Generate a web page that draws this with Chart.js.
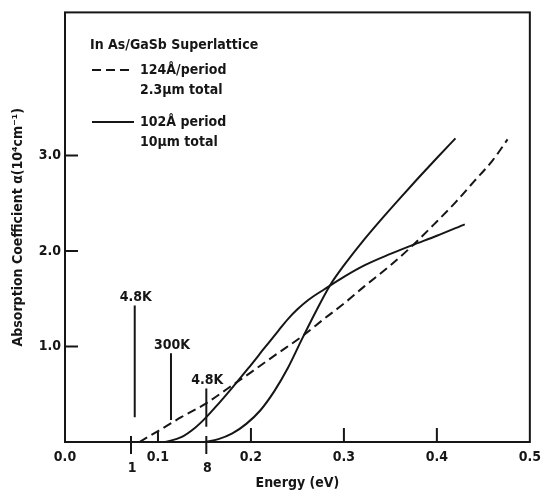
<!doctype html>
<html>
<head>
<meta charset="utf-8">
<title>InAs/GaSb superlattice absorption</title>
<script src="https://cdn.jsdelivr.net/npm/chart.js@4"></script>
<style>
  html, body { margin: 0; padding: 0; background: #fff; }
</style>
</head>
<body>
<canvas id="c" width="548" height="494"></canvas>
<script>
const energy124 = [0.080, 0.101, 0.125, 0.151, 0.175, 0.200, 0.229, 0.254, 0.280, 0.300, 0.322, 0.350, 0.373, 0.400, 0.420, 0.440, 0.460, 0.476];
const alpha124  = [0.00, 0.12, 0.26, 0.40, 0.56, 0.73, 0.93, 1.10, 1.30, 1.45, 1.63, 1.85, 2.05, 2.31, 2.51, 2.73, 2.95, 3.17];

const energyA = [0.108, 0.125, 0.140, 0.151, 0.165, 0.180, 0.197, 0.215, 0.229, 0.240, 0.250, 0.262, 0.279, 0.300, 0.322, 0.350, 0.373, 0.400, 0.430];
const alphaA  = [0.00, 0.05, 0.15, 0.25, 0.40, 0.57, 0.77, 0.99, 1.16, 1.29, 1.39, 1.49, 1.60, 1.73, 1.85, 1.97, 2.06, 2.16, 2.28];

const energyB = [0.150, 0.165, 0.180, 0.195, 0.210, 0.225, 0.240, 0.255, 0.270, 0.285, 0.300, 0.320, 0.340, 0.360, 0.380, 0.400, 0.420];
const alphaB  = [0.00, 0.03, 0.09, 0.19, 0.33, 0.53, 0.78, 1.08, 1.37, 1.64, 1.85, 2.10, 2.33, 2.55, 2.765, 2.975, 3.18];

// вертикальные метки (ширина щели)
const markerX     = [0.075, 0.114, 0.152];
const markerLow   = [0.26, 0.23, 0.16];
const markerHigh  = [1.43, 0.93, 0.56];
const markerNames = ['4.8K', '300K', '4.8K'];

const xTicks = [0, 0.1, 0.2, 0.3, 0.4, 0.5];
const yTicks = [1, 2, 3];
const extraTicks = [0.071, 0.152];
const extraTickNames = ['1', '8'];

const legendTitle = 'In As/GaSb Superlattice';
const legendLines = [['124Å/period', '2.3μm total'], ['102Å period', '10μm total']];

const FONT = "'DejaVu Sans Condensed', 'Liberation Sans', Arial, sans-serif";
const FSIZE = 14;
const INK = '#161616';

function pts(xs, ys) { return xs.map((x, i) => ({ x, y: ys[i] })); }

const curve = (data, dash) => ({
  data, borderColor: INK, borderWidth: 2, borderDash: dash || [],
  pointRadius: 0, showLine: true, fill: false, cubicInterpolationMode: 'monotone',
});

const markerSets = markerX.map((x, i) => ({
  data: [{ x, y: markerLow[i] }, { x, y: markerHigh[i] }],
  borderColor: INK, borderWidth: 2, pointRadius: 0, showLine: true,
}));

// рамка, внутренние засечки, подписи меток и легенда
const decor = {
  id: 'decor',
  afterDraw(chart) {
    const { ctx, chartArea: a, scales: { x, y } } = chart;
    ctx.save();
    ctx.strokeStyle = INK;
    ctx.fillStyle = INK;
    ctx.lineWidth = 2;
    ctx.strokeRect(a.left, a.top, a.right - a.left, a.bottom - a.top);

    ctx.beginPath();
    yTicks.forEach(v => { const py = y.getPixelForValue(v); ctx.moveTo(a.left, py); ctx.lineTo(a.left + 13, py); });
    xTicks.slice(1, -1).forEach((v, i) => {
      const px = x.getPixelForValue(v);
      ctx.moveTo(px, a.bottom); ctx.lineTo(px, a.bottom - (i === 0 ? 10 : 14));
    });
    extraTicks.forEach(v => { const px = x.getPixelForValue(v); ctx.moveTo(px, a.bottom - 6); ctx.lineTo(px, a.bottom + 12); });
    ctx.stroke();

    ctx.font = 'bold ' + FSIZE + 'px ' + FONT;
    ctx.textAlign = 'center';
    ctx.textBaseline = 'middle';
    extraTicks.forEach((v, i) => ctx.fillText(extraTickNames[i], x.getPixelForValue(v) + 1, a.bottom + 26));
    markerX.forEach((v, i) => ctx.fillText(markerNames[i], x.getPixelForValue(v) + 1, y.getPixelForValue(markerHigh[i]) - 8));

    ctx.textAlign = 'left';
    ctx.fillText(legendTitle, 90, 45);
    const rows = [70, 122];
    rows.forEach((ry, i) => {
      ctx.beginPath();
      ctx.setLineDash(i === 0 ? [9, 5] : []);
      ctx.moveTo(92, ry); ctx.lineTo(134, ry);
      ctx.stroke();
      ctx.setLineDash([]);
      ctx.fillText(legendLines[i][0], 140, ry);
      ctx.fillText(legendLines[i][1], 140, ry + 20);
    });
    ctx.restore();
  }
};

const tickFont = { family: FONT, size: FSIZE, weight: 'bold' };

new Chart(document.getElementById('c'), {
  type: 'scatter',
  data: {
    datasets: [
      curve(pts(energy124, alpha124), [9, 5]),
      curve(pts(energyA, alphaA)),
      curve(pts(energyB, alphaB)),
      ...markerSets,
    ]
  },
  options: {
    responsive: false,
    animation: false,
    devicePixelRatio: 1,
    layout: { padding: { left: 0, right: 13, top: 10, bottom: 0 } },
    plugins: { legend: { display: false }, tooltip: { enabled: false } },
    scales: {
      x: {
        type: 'linear', min: 0, max: 0.5,
        afterBuildTicks: s => { s.ticks = xTicks.map(value => ({ value })); },
        afterFit: s => { s.height = 52; },
        grid: { drawOnChartArea: false, drawTicks: false },
        border: { display: false },
        ticks: { padding: 7, color: INK, font: tickFont, callback: v => v.toFixed(1) },
        title: { display: true, text: 'Energy (eV)', color: INK, padding: { top: 0, bottom: 2 }, font: tickFont },
      },
      y: {
        type: 'linear', min: 0, max: 4.5,
        afterBuildTicks: s => { s.ticks = yTicks.map(value => ({ value })); },
        afterFit: s => { s.width = 65; },
        grid: { drawOnChartArea: false, drawTicks: false },
        border: { display: false },
        ticks: { padding: 4, color: INK, font: tickFont, callback: v => v.toFixed(1) },
        title: { display: true, text: 'Absorption Coefficient α(10⁴cm⁻¹)', color: INK, padding: { top: 10, bottom: 0 }, font: tickFont },
      },
    },
  },
  plugins: [decor],
});
</script>
</body>
</html>
